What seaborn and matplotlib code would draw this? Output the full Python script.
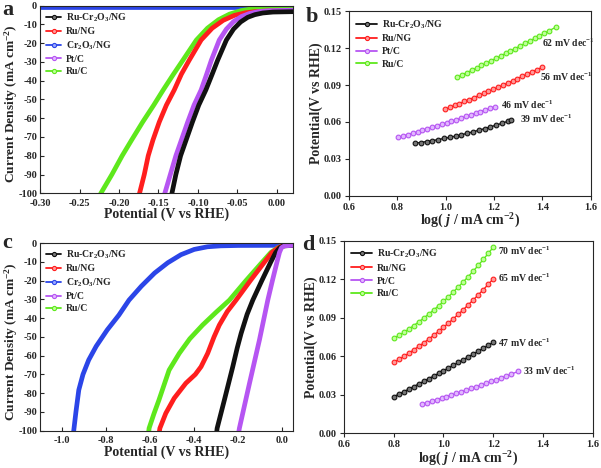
import matplotlib
matplotlib.use("Agg")
import matplotlib.pyplot as plt
import seaborn as sns
from matplotlib.lines import Line2D

# ---------- data: LSV curves (panel a) ----------
a_labels = ["Ru-Cr$_2$O$_3$/NG", "Ru/NG", "Cr$_2$O$_3$/NG", "Pt/C", "Ru/C"]

a_rucr_x = [-0.136, -0.133, -0.128, -0.122, -0.115, -0.107, -0.099, -0.090, -0.082, -0.075,
            -0.064, -0.055, -0.046, -0.037, -0.028, -0.018, -0.005, 0.020]
a_rucr_y = [-106, -100, -90, -80, -71.6, -62, -53, -44.9, -36.5, -29,
            -18.3, -12.5, -8.7, -6.2, -4.8, -3.9, -3.4, -3.2]
a_rung_x = [-0.176, -0.174, -0.168, -0.163, -0.157, -0.149, -0.140, -0.130, -0.121, -0.111,
            -0.096, -0.082, -0.068, -0.054, -0.040, -0.026, -0.010, 0.020]
a_rung_y = [-106, -100, -90, -80, -71.6, -62, -53, -44.9, -36.5, -29,
            -18.3, -12, -7.8, -5.2, -3.8, -3.1, -2.8, -2.7]
a_cr_x = [-0.30, -0.20, -0.10, 0.00, 0.02]
a_cr_y = [-0.7, -0.7, -0.7, -0.7, -0.7]
a_ptc_x = [-0.145, -0.142, -0.135, -0.128, -0.121, -0.113, -0.105, -0.096, -0.089, -0.083,
           -0.073, -0.064, -0.055, -0.045, -0.035, -0.024, -0.010, 0.020]
a_ptc_y = [-106, -100, -90, -80, -71.6, -62, -53, -44.9, -36.5, -29,
           -18.3, -12.5, -8.5, -5.8, -4.2, -3.2, -2.7, -2.4]
a_ruc_x = [-0.228, -0.223, -0.209, -0.196, -0.184, -0.170, -0.156, -0.144, -0.131, -0.119,
           -0.102, -0.088, -0.074, -0.060, -0.045, -0.030, -0.014, 0.020]
a_ruc_y = [-106, -100, -90, -80, -71.6, -62, -53, -44.9, -36.5, -29,
           -18.3, -12, -7.5, -4.5, -2.6, -1.6, -1.0, -0.8]

# ---------- data: Tafel plots (panel b) ----------
b_labels = ["Ru-Cr$_2$O$_3$/NG", "Ru/NG", "Pt/C", "Ru/C"]
b_slopes = ["39 mV dec$^{-1}$", "56 mV dec$^{-1}$", "46 mV dec$^{-1}$", "62 mV dec$^{-1}$"]

b_rucr_x = [0.873, 0.897, 0.921, 0.945, 0.969, 0.993, 1.017, 1.041, 1.065, 1.089,
            1.113, 1.137, 1.161, 1.185, 1.209, 1.233, 1.257, 1.271]
b_rucr_y = [0.0427, 0.0433, 0.0441, 0.0448, 0.0457, 0.0466, 0.0475, 0.0485, 0.0496, 0.0508,
            0.0520, 0.0533, 0.0546, 0.0560, 0.0575, 0.0590, 0.0606, 0.0616]
b_rung_x = [0.997, 1.017, 1.037, 1.057, 1.077, 1.097, 1.117, 1.137, 1.157, 1.177,
            1.197, 1.217, 1.237, 1.257, 1.277, 1.297, 1.317, 1.337, 1.357, 1.377, 1.400]
b_rung_y = [0.0703, 0.0719, 0.0735, 0.0750, 0.0767, 0.0783, 0.0799, 0.0816, 0.0832, 0.0849,
            0.0866, 0.0883, 0.0900, 0.0918, 0.0935, 0.0953, 0.0971, 0.0989, 0.1007, 0.1025, 0.1046]
b_ptc_x = [0.804, 0.824, 0.844, 0.864, 0.884, 0.904, 0.924, 0.944, 0.964, 0.984,
           1.004, 1.024, 1.044, 1.064, 1.084, 1.104, 1.124, 1.144, 1.164, 1.184, 1.203]
b_ptc_y = [0.0476, 0.0487, 0.0498, 0.0510, 0.0521, 0.0533, 0.0545, 0.0557, 0.0569, 0.0581,
           0.0594, 0.0606, 0.0619, 0.0632, 0.0645, 0.0658, 0.0672, 0.0685, 0.0699, 0.0712, 0.0725]
b_ruc_x = [1.048, 1.068, 1.088, 1.108, 1.128, 1.148, 1.168, 1.188, 1.208, 1.228,
           1.248, 1.268, 1.288, 1.308, 1.328, 1.348, 1.368, 1.388, 1.408, 1.428, 1.455]
b_ruc_y = [0.0964, 0.0983, 0.1002, 0.1021, 0.1040, 0.1060, 0.1079, 0.1099, 0.1118, 0.1138,
           0.1158, 0.1178, 0.1198, 0.1219, 0.1239, 0.1260, 0.1280, 0.1301, 0.1322, 0.1343, 0.1371]

# ---------- data: LSV curves (panel c) ----------
c_rucr_x = [-0.303, -0.296, -0.263, -0.225, -0.205, -0.187, -0.160, -0.134, -0.093, -0.052,
            -0.030, -0.012, 0.005, 0.050]
c_rucr_y = [-106, -98.7, -83.6, -65.9, -56, -48.1, -38, -30.4, -20, -10,
            -5, -2.5, -1.5, -1.3]
c_rung_x = [-0.565, -0.556, -0.529, -0.491, -0.438, -0.395, -0.369, -0.339, -0.310, -0.286,
            -0.250, -0.210, -0.145, -0.080, -0.047, -0.018, 0.000, 0.050]
c_rung_y = [-106, -98.7, -90.7, -82.7, -74.7, -70, -65.9, -58.8, -50, -43.7,
            -36.5, -30.4, -20, -10, -5, -2.5, -1.5, -1.2]
c_cr_x = [-0.952, -0.947, -0.937, -0.924, -0.905, -0.879, -0.845, -0.795, -0.742, -0.696,
          -0.640, -0.580, -0.520, -0.460, -0.400, -0.340, -0.280, -0.200, 0.050]
c_cr_y = [-106, -100, -90, -78.3, -70, -62.3, -55, -46.3, -38.4, -30.4,
          -23, -16, -10.5, -6.2, -3.4, -2.0, -1.5, -1.3, -1.2]
c_ptc_x = [-0.205, -0.195, -0.149, -0.104, -0.066, -0.045, -0.024, -0.013, -0.004, 0.010, 0.050]
c_ptc_y = [-106, -98.7, -74.7, -51.7, -30.4, -20, -10, -5, -2.5, -1.5, -1.2]
c_ruc_x = [-0.612, -0.605, -0.583, -0.560, -0.514, -0.468, -0.420, -0.362, -0.300, -0.240,
           -0.165, -0.090, -0.052, -0.020, 0.000, 0.050]
c_ruc_y = [-106, -98.7, -91, -83.6, -67.7, -58.8, -51, -43.7, -36.8, -30.4,
           -20, -10, -5, -2.5, -1.5, -1.2]

# ---------- data: Tafel plots (panel d) ----------
d_slopes = ["47 mV dec$^{-1}$", "65 mV dec$^{-1}$", "33 mV dec$^{-1}$", "70 mV dec$^{-1}$"]

d_x = [0.80, 0.82, 0.84, 0.86, 0.88, 0.90, 0.92, 0.94, 0.96, 0.98,
       1.00, 1.02, 1.04, 1.06, 1.08, 1.10, 1.12, 1.14, 1.16, 1.18, 1.20]
d_rucr_y = [0.0285, 0.0305, 0.0324, 0.0344, 0.0364, 0.0384, 0.0405, 0.0425, 0.0446, 0.0467,
            0.0488, 0.0509, 0.0531, 0.0552, 0.0574, 0.0596, 0.0618, 0.0641, 0.0663, 0.0686, 0.0709]
d_rung_y = [0.0553, 0.0576, 0.0599, 0.0624, 0.0650, 0.0677, 0.0704, 0.0733, 0.0763, 0.0794,
            0.0826, 0.0859, 0.0893, 0.0928, 0.0964, 0.1002, 0.1040, 0.1079, 0.1119, 0.1161, 0.1203]
d_ruc_y = [0.0740, 0.0763, 0.0787, 0.0812, 0.0839, 0.0867, 0.0897, 0.0928, 0.0960, 0.0993,
           0.1028, 0.1064, 0.1102, 0.1141, 0.1181, 0.1222, 0.1265, 0.1309, 0.1355, 0.1402, 0.1450]
d_ptc_x = [0.912, 0.932, 0.952, 0.972, 0.992, 1.012, 1.032, 1.052, 1.072, 1.092,
           1.112, 1.132, 1.152, 1.172, 1.192, 1.212, 1.232, 1.252, 1.272, 1.301]
d_ptc_y = [0.0226, 0.0238, 0.0250, 0.0262, 0.0274, 0.0286, 0.0299, 0.0311, 0.0324, 0.0337,
           0.0350, 0.0363, 0.0377, 0.0390, 0.0404, 0.0418, 0.0432, 0.0446, 0.0461, 0.0483]

# ---------- colours ----------
col = {"rucr": "#111111", "rung": "#FF1E1E", "cr": "#2B45E8", "ptc": "#B655F2", "ruc": "#5EE81C"}
face = {"rucr": "#777777", "rung": "#FF9A9A", "cr": "#9AA8FF", "ptc": "#E2B8FF", "ruc": "#BFFF99"}

# ---------- style ----------
sns.set_style("ticks")
plt.rcParams["font.family"] = ["Liberation Serif", "DejaVu Serif"]
plt.rcParams["font.weight"] = "bold"
plt.rcParams["axes.labelweight"] = "bold"
plt.rcParams["mathtext.fontset"] = "custom"
plt.rcParams["mathtext.rm"] = "Liberation Serif:bold"
plt.rcParams["mathtext.it"] = "Liberation Serif:italic:bold"
plt.rcParams["mathtext.bf"] = "Liberation Serif:bold"
plt.rcParams["mathtext.default"] = "rm"

TICK = 7.5
LAB = 10
LEG = 7
NOTE = 7

fig = plt.figure(figsize=(6.01, 4.68), dpi=100)
ax_a = fig.add_axes([0.0666, 0.587, 0.4205, 0.4009])
ax_b = fig.add_axes([0.5807, 0.5818, 0.4022, 0.3938])
ax_c = fig.add_axes([0.0666, 0.0797, 0.4215, 0.4010])
ax_d = fig.add_axes([0.5724, 0.0741, 0.4138, 0.4113])


def handles(keys, labels):
    return [Line2D([], [], color=col[k], lw=1.3, marker="o", ms=3, mfc=face[k], mew=0.8)
            for k in keys], labels


def lsv(ax, series, xlim, xticks, xticklabels):
    for key, xs, ys in series:
        sns.lineplot(x=xs, y=ys, ax=ax, color=col[key], lw=3.4, sort=False,
                     estimator=None, legend=False)
    ax.set_xlim(*xlim)
    ax.set_ylim(-100, 0)
    ax.set_xticks(xticks)
    ax.set_xticklabels(xticklabels)
    ax.set_yticks(range(-100, 1, 10))
    ax.set_yticklabels([str(v) for v in range(-100, 1, 10)])
    ax.set_xlabel("Potential (V vs RHE)", fontsize=LAB, labelpad=0)
    ax.set_ylabel("Current Density (mA cm$^{-2}$)", fontsize=9.6, labelpad=0)
    ax.yaxis.set_label_coords(-0.078, 0.475)
    ax.tick_params(direction="in", length=3, labelsize=TICK, pad=2)
    ax.tick_params(axis="x", pad=4)
    h, l = handles(["rucr", "rung", "cr", "ptc", "ruc"], a_labels)
    ax.legend(h, l, loc="upper left", frameon=False, fontsize=LEG, handlelength=1.6,
              handletextpad=0.5, labelspacing=0.32, borderaxespad=0.2,
              bbox_to_anchor=(0.0, 1.0))


def tafel(ax, series, notes):
    for key, xs, ys in series:
        sns.lineplot(x=xs, y=ys, ax=ax, color=col[key], lw=1.0, marker="o", ms=3.4,
                     mfc=face[key], mec=col[key], mew=0.8, sort=False, estimator=None,
                     legend=False)
    for (tx, ty, txt) in notes:
        ax.text(tx, ty, txt, fontsize=NOTE, va="center", ha="left")
    ax.set_xlim(0.6, 1.6)
    ax.set_ylim(0, 0.15)
    ax.set_xticks([0.6, 0.8, 1.0, 1.2, 1.4, 1.6])
    ax.set_xticklabels(["0.6", "0.8", "1.0", "1.2", "1.4", "1.6"])
    ax.set_yticks([0, 0.03, 0.06, 0.09, 0.12, 0.15])
    ax.set_yticklabels(["0.00", "0.03", "0.06", "0.09", "0.12", "0.15"])
    ax.set_xlabel("log( $\\mathit{j}$ / mA cm$^{-2}$)", fontsize=LAB, labelpad=0)
    ax.set_ylabel("Potential(V vs RHE)", fontsize=LAB, labelpad=1)
    ax.tick_params(direction="out", length=3, labelsize=TICK, pad=2)
    h, l = handles(["rucr", "rung", "ptc", "ruc"], b_labels)
    ax.legend(h, l, loc="upper left", frameon=False, fontsize=LEG, handlelength=2.2,
              handletextpad=0.5, labelspacing=0.38, borderaxespad=0.3)


lsv(ax_a, [("cr", a_cr_x, a_cr_y), ("ruc", a_ruc_x, a_ruc_y), ("rung", a_rung_x, a_rung_y),
           ("ptc", a_ptc_x, a_ptc_y), ("rucr", a_rucr_x, a_rucr_y)],
    (-0.30, 0.02), [-0.30, -0.25, -0.20, -0.15, -0.10, -0.05, 0.00],
    ["-0.30", "-0.25", "-0.20", "-0.15", "-0.10", "-0.05", "0.00"])

tafel(ax_b, [("rucr", b_rucr_x, b_rucr_y), ("ptc", b_ptc_x, b_ptc_y),
             ("rung", b_rung_x, b_rung_y), ("ruc", b_ruc_x, b_ruc_y)],
      [(1.307, 0.0622, b_slopes[0]), (1.39, 0.0964, b_slopes[1]),
       (1.228, 0.0744, b_slopes[2]), (1.40, 0.1246, b_slopes[3])])

lsv(ax_c, [("cr", c_cr_x, c_cr_y), ("ruc", c_ruc_x, c_ruc_y), ("rung", c_rung_x, c_rung_y),
           ("rucr", c_rucr_x, c_rucr_y), ("ptc", c_ptc_x, c_ptc_y)],
    (-1.1, 0.05), [-1.0, -0.8, -0.6, -0.4, -0.2, 0.0],
    ["-1.0", "-0.8", "-0.6", "-0.4", "-0.2", "0.0"])

tafel(ax_d, [("rucr", d_x, d_rucr_y), ("ptc", d_ptc_x, d_ptc_y),
             ("rung", d_x, d_rung_y), ("ruc", d_x, d_ruc_y)],
      [(1.22, 0.0705, d_slopes[0]), (1.22, 0.121, d_slopes[1]),
       (1.318, 0.0488, d_slopes[2]), (1.22, 0.142, d_slopes[3])])

for letter, x, y in [("a", 0.003, 1.0), ("b", 0.508, 0.985), ("c", 0.003, 0.503), ("d", 0.502, 0.498)]:
    fig.text(x, y, letter, fontsize=16, fontweight="bold", va="top", ha="left")

fig.savefig("out.png", dpi=100)
